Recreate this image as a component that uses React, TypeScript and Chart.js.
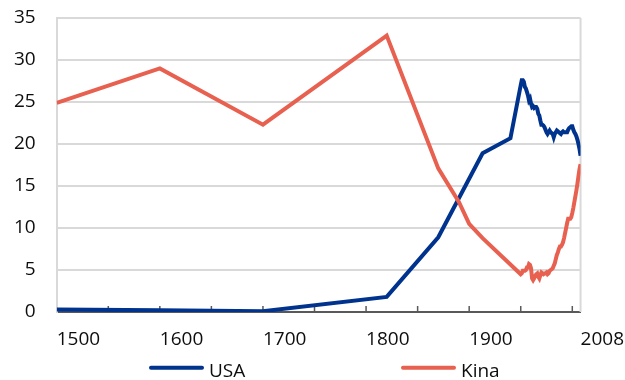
import React, { useEffect, useRef } from 'react';
import { Chart, registerables } from 'chart.js';

Chart.register(...registerables);

// ---- Data (share of world GDP, %) ----
const seriesNames = ['USA', 'Kina'];

const usaEarlyYears = [1500, 1600, 1700, 1820, 1870, 1913, 1940];
const usaEarlyValues = [0.3, 0.2, 0.1, 1.8, 8.9, 18.9, 20.7];

const chinaEarlyYears = [1500, 1600, 1700, 1820, 1870, 1890, 1900, 1913];
const chinaEarlyValues = [24.9, 29.0, 22.3, 32.9, 17.1, 13.1, 10.5, 8.8];

const annualYears = [
  1950, 1951, 1952, 1953, 1954, 1955, 1956, 1957, 1958, 1959,
  1960, 1961, 1962, 1963, 1964, 1965, 1966, 1967, 1968, 1969,
  1970, 1971, 1972, 1973, 1974, 1975, 1976, 1977, 1978, 1979,
  1980, 1981, 1982, 1983, 1984, 1985, 1986, 1987, 1988, 1989,
  1990, 1991, 1992, 1993, 1994, 1995, 1996, 1997, 1998, 1999,
  2000, 2001, 2002, 2003, 2004, 2005, 2006, 2007, 2008,
];

const usaAnnualValues = [
  27.0, 27.6, 27.6, 27.4, 26.8, 26.6, 26.2, 25.8, 25.2, 25.4,
  24.8, 24.4, 24.5, 24.3, 24.4, 24.4, 24.2, 23.6, 23.4, 22.8,
  22.3, 22.3, 22.2, 22.0, 21.7, 21.4, 21.2, 21.4, 21.6, 21.4,
  21.3, 21.2, 20.8, 21.2, 21.4, 21.6, 21.5, 21.4, 21.3, 21.2,
  21.4, 21.5, 21.4, 21.4, 21.4, 21.4, 21.7, 21.9, 22.0, 22.1,
  22.1, 21.7, 21.4, 21.2, 20.9, 20.5, 20.0, 19.4, 18.6,
];

const chinaAnnualValues = [
  4.5, 4.6, 4.9, 4.9, 4.9, 5.0, 5.3, 5.3, 5.7, 5.6,
  5.2, 4.0, 3.8, 4.0, 4.3, 4.5, 4.6, 4.2, 4.0, 4.4,
  4.7, 4.6, 4.5, 4.6, 4.6, 4.7, 4.5, 4.6, 4.9, 5.0,
  5.1, 5.2, 5.5, 5.8, 6.3, 6.8, 7.1, 7.5, 7.8, 7.8,
  8.0, 8.3, 8.8, 9.4, 10.0, 10.6, 11.1, 11.1, 11.1, 11.3,
  11.8, 12.4, 13.1, 13.8, 14.5, 15.3, 16.2, 17.0, 17.6,
];

const xLabelYears = [1500, 1600, 1700, 1800, 1900, 2008];
const xTickMarkYears = [1550, 1600, 1650, 1700, 1750, 1800, 1850, 1900, 1950, 2000];
const yMin = 0;
const yMax = 35;
const yStep = 5;

// ---- Styles ----
const FONT = "'Open Sans', 'Noto Sans', sans-serif";
const USA_COLOR = '#00338D';
const CHINA_COLOR = '#E8604F';
const GRID_COLOR = '#D9D9D9';
const AXIS_COLOR = '#595959';
const TEXT_COLOR = '#0D0D0D';

const toPoints = (xs: number[], ys: number[]) => xs.map((x, i) => ({ x, y: ys[i] }));

const frameAndTicksPlugin = {
  id: 'frameAndTicks',
  beforeDatasetsDraw(chart: any) {
    const { ctx, chartArea, scales } = chart;
    const x = scales.x;
    ctx.save();
    ctx.strokeStyle = GRID_COLOR;
    ctx.lineWidth = 2;
    ctx.beginPath();
    ctx.moveTo(chartArea.right, chartArea.top);
    ctx.lineTo(chartArea.right, chartArea.bottom);
    ctx.stroke();
    ctx.strokeStyle = AXIS_COLOR;
    ctx.lineWidth = 1.5;
    ctx.beginPath();
    xTickMarkYears.forEach((yr) => {
      const px = x.getPixelForValue(yr);
      ctx.moveTo(px, chartArea.bottom);
      ctx.lineTo(px, chartArea.bottom - 6);
    });
    ctx.stroke();
    ctx.restore();
  },
};

const legendPlugin = {
  id: 'bottomLegend',
  afterDraw(chart: any) {
    const { ctx } = chart;
    const items = [
      { label: seriesNames[0], color: USA_COLOR, x: 150 },
      { label: seriesNames[1], color: CHINA_COLOR, x: 402 },
    ];
    const lineY = 367.7;
    ctx.save();
    items.forEach((it) => {
      ctx.strokeStyle = it.color;
      ctx.lineWidth = 4;
      ctx.lineCap = 'round';
      ctx.beginPath();
      ctx.moveTo(it.x + 1, lineY);
      ctx.lineTo(it.x + 52, lineY);
      ctx.stroke();
      ctx.fillStyle = TEXT_COLOR;
      ctx.font = `19px ${FONT}`;
      ctx.textAlign = 'left';
      ctx.textBaseline = 'alphabetic';
      ctx.fillText(it.label, it.x + 59, 376.5);
    });
    ctx.restore();
  },
};

export default function App() {
  const canvasRef = useRef<HTMLCanvasElement | null>(null);

  useEffect(() => {
    if (!canvasRef.current) return;
    const chart = new Chart(canvasRef.current, {
      type: 'line',
      data: {
        datasets: [
          {
            label: seriesNames[1],
            data: [
              ...toPoints(chinaEarlyYears, chinaEarlyValues),
              ...toPoints(annualYears, chinaAnnualValues),
            ],
            borderColor: CHINA_COLOR,
            backgroundColor: CHINA_COLOR,
            borderWidth: 4,
            pointRadius: 0,
            tension: 0,
            order: 0,
          },
          {
            label: seriesNames[0],
            data: [
              ...toPoints(usaEarlyYears, usaEarlyValues),
              ...toPoints(annualYears, usaAnnualValues),
            ],
            borderColor: USA_COLOR,
            backgroundColor: USA_COLOR,
            borderWidth: 4,
            pointRadius: 0,
            tension: 0,
            order: 1,
          },
        ],
      },
      options: {
        animation: false,
        responsive: true,
        maintainAspectRatio: false,
        layout: { padding: { left: 13, top: 18, right: 0, bottom: 12 } },
        plugins: {
          legend: { display: false },
          tooltip: { enabled: false },
        },
        scales: {
          x: {
            type: 'linear',
            min: 1500,
            max: 2008,
            afterBuildTicks: (axis: any) => {
              axis.ticks = xLabelYears.map((v) => ({ value: v }));
            },
            ticks: {
              align: 'start',
              autoSkip: false,
              maxRotation: 0,
              minRotation: 0,
              padding: 1,
              color: TEXT_COLOR,
              font: { family: FONT, size: 19, lineHeight: 2.84 },
              callback: (v: any) => String(v),
            },
            grid: { display: false, drawTicks: false },
            border: { display: true, color: AXIS_COLOR, width: 2 },
          },
          y: {
            type: 'linear',
            min: yMin,
            max: yMax,
            ticks: {
              stepSize: yStep,
              padding: 1,
              color: TEXT_COLOR,
              font: { family: FONT, size: 19 },
            },
            grid: {
              drawTicks: true,
              tickLength: 20,
              tickColor: 'rgba(0,0,0,0)',
              lineWidth: 2,
              color: (ctx: any) => (ctx.tick && ctx.tick.value === 0 ? 'rgba(0,0,0,0)' : GRID_COLOR),
            },
            border: { display: true, color: GRID_COLOR, width: 2 },
          },
        },
      },
      plugins: [frameAndTicksPlugin, legendPlugin],
    } as any);
    return () => chart.destroy();
  }, []);

  return (
    <div style={{ position: 'fixed', left: 0, top: 0, width: 625, height: 380, overflow: 'hidden', background: '#fff' }}>
      <canvas ref={canvasRef} />
    </div>
  );
}
